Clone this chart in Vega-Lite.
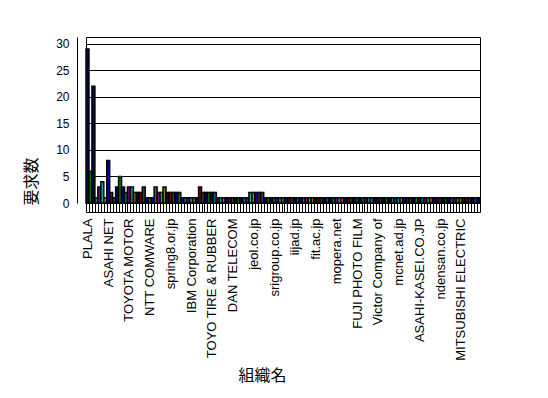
{
  "$schema": "https://vega.github.io/schema/vega-lite/v6.json",
  "width": 394,
  "height": 166,
  "autosize": "none",
  "padding": {"left": 86, "top": 37, "right": 68, "bottom": 195},
  "background": "white",
  "config": {
    "view": {"stroke": "black", "strokeWidth": 1},
    "axis": {"labelFont": "Liberation Sans", "titleFont": "Noto Sans CJK JP", "labelColor": "black", "titleColor": "black", "titleFontWeight": "normal"}
  },
  "data": {
    "values": [
      {"rank": 1, "org": "PLALA", "count": 29},
      {"rank": 2, "org": null, "count": 6},
      {"rank": 3, "org": null, "count": 22},
      {"rank": 4, "org": null, "count": 1},
      {"rank": 5, "org": null, "count": 3},
      {"rank": 6, "org": null, "count": 4},
      {"rank": 7, "org": null, "count": 1},
      {"rank": 8, "org": "ASAHI NET", "count": 8},
      {"rank": 9, "org": null, "count": 2},
      {"rank": 10, "org": null, "count": 1},
      {"rank": 11, "org": null, "count": 3},
      {"rank": 12, "org": null, "count": 5},
      {"rank": 13, "org": null, "count": 3},
      {"rank": 14, "org": null, "count": 2},
      {"rank": 15, "org": "TOYOTA MOTOR", "count": 3},
      {"rank": 16, "org": null, "count": 3},
      {"rank": 17, "org": null, "count": 2},
      {"rank": 18, "org": null, "count": 2},
      {"rank": 19, "org": null, "count": 2},
      {"rank": 20, "org": null, "count": 3},
      {"rank": 21, "org": null, "count": 1},
      {"rank": 22, "org": "NTT COMWARE", "count": 1},
      {"rank": 23, "org": null, "count": 1},
      {"rank": 24, "org": null, "count": 3},
      {"rank": 25, "org": null, "count": 2},
      {"rank": 26, "org": null, "count": 2},
      {"rank": 27, "org": null, "count": 3},
      {"rank": 28, "org": null, "count": 2},
      {"rank": 29, "org": "spring8.or.jp", "count": 2},
      {"rank": 30, "org": null, "count": 2},
      {"rank": 31, "org": null, "count": 2},
      {"rank": 32, "org": null, "count": 2},
      {"rank": 33, "org": null, "count": 1},
      {"rank": 34, "org": null, "count": 1},
      {"rank": 35, "org": null, "count": 1},
      {"rank": 36, "org": "IBM Corporation", "count": 1},
      {"rank": 37, "org": null, "count": 1},
      {"rank": 38, "org": null, "count": 1},
      {"rank": 39, "org": null, "count": 3},
      {"rank": 40, "org": null, "count": 2},
      {"rank": 41, "org": null, "count": 2},
      {"rank": 42, "org": null, "count": 2},
      {"rank": 43, "org": "TOYO TIRE & RUBBER", "count": 2},
      {"rank": 44, "org": null, "count": 2},
      {"rank": 45, "org": null, "count": 1},
      {"rank": 46, "org": null, "count": 1},
      {"rank": 47, "org": null, "count": 1},
      {"rank": 48, "org": null, "count": 1},
      {"rank": 49, "org": null, "count": 1},
      {"rank": 50, "org": "DAN TELECOM", "count": 1},
      {"rank": 51, "org": null, "count": 1},
      {"rank": 52, "org": null, "count": 1},
      {"rank": 53, "org": null, "count": 1},
      {"rank": 54, "org": null, "count": 1},
      {"rank": 55, "org": null, "count": 1},
      {"rank": 56, "org": null, "count": 2},
      {"rank": 57, "org": "jeol.co.jp", "count": 2},
      {"rank": 58, "org": null, "count": 2},
      {"rank": 59, "org": null, "count": 2},
      {"rank": 60, "org": null, "count": 2},
      {"rank": 61, "org": null, "count": 1},
      {"rank": 62, "org": null, "count": 1},
      {"rank": 63, "org": null, "count": 1},
      {"rank": 64, "org": "srigroup.co.jp", "count": 1},
      {"rank": 65, "org": null, "count": 1},
      {"rank": 66, "org": null, "count": 1},
      {"rank": 67, "org": null, "count": 1},
      {"rank": 68, "org": null, "count": 1},
      {"rank": 69, "org": null, "count": 1},
      {"rank": 70, "org": null, "count": 1},
      {"rank": 71, "org": "iijad.jp", "count": 1},
      {"rank": 72, "org": null, "count": 1},
      {"rank": 73, "org": null, "count": 1},
      {"rank": 74, "org": null, "count": 1},
      {"rank": 75, "org": null, "count": 1},
      {"rank": 76, "org": null, "count": 1},
      {"rank": 77, "org": null, "count": 1},
      {"rank": 78, "org": "fit.ac.jp", "count": 1},
      {"rank": 79, "org": null, "count": 1},
      {"rank": 80, "org": null, "count": 1},
      {"rank": 81, "org": null, "count": 1},
      {"rank": 82, "org": null, "count": 1},
      {"rank": 83, "org": null, "count": 1},
      {"rank": 84, "org": null, "count": 1},
      {"rank": 85, "org": "mopera.net", "count": 1},
      {"rank": 86, "org": null, "count": 1},
      {"rank": 87, "org": null, "count": 1},
      {"rank": 88, "org": null, "count": 1},
      {"rank": 89, "org": null, "count": 1},
      {"rank": 90, "org": null, "count": 1},
      {"rank": 91, "org": null, "count": 1},
      {"rank": 92, "org": "FUJI PHOTO FILM", "count": 1},
      {"rank": 93, "org": null, "count": 1},
      {"rank": 94, "org": null, "count": 1},
      {"rank": 95, "org": null, "count": 1},
      {"rank": 96, "org": null, "count": 1},
      {"rank": 97, "org": null, "count": 1},
      {"rank": 98, "org": null, "count": 1},
      {"rank": 99, "org": "Victor Company of", "count": 1},
      {"rank": 100, "org": null, "count": 1},
      {"rank": 101, "org": null, "count": 1},
      {"rank": 102, "org": null, "count": 1},
      {"rank": 103, "org": null, "count": 1},
      {"rank": 104, "org": null, "count": 1},
      {"rank": 105, "org": null, "count": 1},
      {"rank": 106, "org": "mcnet.ad.jp", "count": 1},
      {"rank": 107, "org": null, "count": 1},
      {"rank": 108, "org": null, "count": 1},
      {"rank": 109, "org": null, "count": 1},
      {"rank": 110, "org": null, "count": 1},
      {"rank": 111, "org": null, "count": 1},
      {"rank": 112, "org": null, "count": 1},
      {"rank": 113, "org": "ASAHI-KASEI.CO.JP", "count": 1},
      {"rank": 114, "org": null, "count": 1},
      {"rank": 115, "org": null, "count": 1},
      {"rank": 116, "org": null, "count": 1},
      {"rank": 117, "org": null, "count": 1},
      {"rank": 118, "org": null, "count": 1},
      {"rank": 119, "org": null, "count": 1},
      {"rank": 120, "org": "ndensan.co.jp", "count": 1},
      {"rank": 121, "org": null, "count": 1},
      {"rank": 122, "org": null, "count": 1},
      {"rank": 123, "org": null, "count": 1},
      {"rank": 124, "org": null, "count": 1},
      {"rank": 125, "org": null, "count": 1},
      {"rank": 126, "org": null, "count": 1},
      {"rank": 127, "org": "MITSUBISHI ELECTRIC", "count": 1},
      {"rank": 128, "org": null, "count": 1},
      {"rank": 129, "org": null, "count": 1},
      {"rank": 130, "org": null, "count": 1},
      {"rank": 131, "org": null, "count": 1},
      {"rank": 132, "org": null, "count": 1},
      {"rank": 133, "org": null, "count": 1}
    ]
  },
  "mark": {"type": "bar", "stroke": "black", "strokeWidth": 1.5},
  "encoding": {
    "x": {
      "field": "rank",
      "type": "ordinal",
      "sort": null,
      "scale": {"paddingInner": 0, "paddingOuter": 0},
      "axis": {
        "title": "組織名",
        "titleFontSize": 16,
        "titleX": 176,
        "titleY": 163,
        "titleBaseline": "middle",
        "labelAngle": -90,
        "labelAlign": "right",
        "labelBaseline": "middle",
        "labelFontSize": 13,
        "labelOverlap": false,
        "labelLimit": 250,
        "labelPadding": 15,
        "labelExpr": "(datum.value - 1) % 7 == 0 ? ['PLALA','ASAHI NET','TOYOTA MOTOR','NTT COMWARE','spring8.or.jp','IBM Corporation','TOYO TIRE & RUBBER','DAN TELECOM','jeol.co.jp','srigroup.co.jp','iijad.jp','fit.ac.jp','mopera.net','FUJI PHOTO FILM','Victor Company of','mcnet.ad.jp','ASAHI-KASEI.CO.JP','ndensan.co.jp','MITSUBISHI ELECTRIC'][(datum.value - 1) / 7] : ''",
        "tickBand": "extent",
        "tickSize": -9,
        "tickColor": "black",
        "domainColor": "black",
        "offset": 9
      }
    },
    "y": {
      "field": "count",
      "type": "quantitative",
      "scale": {"domain": [0, 31.25], "nice": false},
      "axis": {
        "title": "要求数",
        "titleFontSize": 16,
        "titleX": -46,
        "titleY": 144,
        "titleBaseline": "middle",
        "values": [0, 5, 10, 15, 20, 25, 30],
        "labelFontSize": 12,
        "labelPadding": 8,
        "tickSize": 0,
        "grid": true,
        "gridColor": "black",
        "gridOpacity": 1,
        "domainColor": "black",
        "offset": 9
      }
    },
    "color": {
      "field": "rank",
      "type": "nominal",
      "legend": null,
      "scale": {"range": ["#000080", "#008000", "#000080", "#008080", "#800080", "#00AAAA", "#808000", "#0000A0", "#800000", "#404040"]}
    }
  }
}
